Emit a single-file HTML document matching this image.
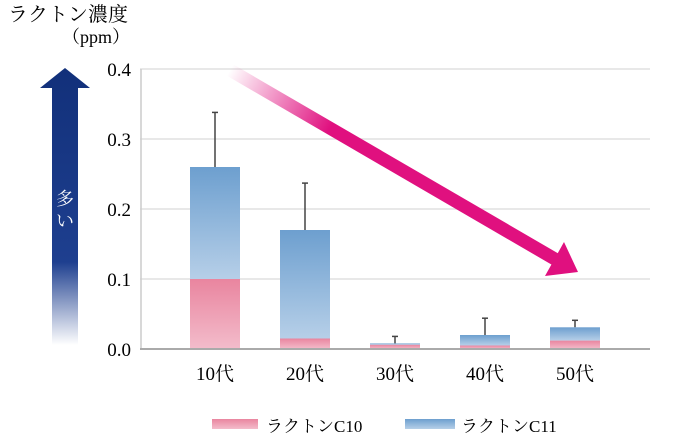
<!DOCTYPE html>
<html><head><meta charset="utf-8"><style>
body{margin:0;background:#fff;}
svg{display:block;font-family:"Liberation Serif","Noto Serif CJK SC","Noto Serif CJK JP",serif;}
</style></head><body>
<svg width="690" height="436">
<defs>
<linearGradient id="gb" x1="0" y1="0" x2="0" y2="1"><stop offset="0" stop-color="#6d9fcf"/><stop offset="1" stop-color="#b6cfe8"/></linearGradient>
<linearGradient id="gp" x1="0" y1="0" x2="0" y2="1"><stop offset="0" stop-color="#e9859f"/><stop offset="1" stop-color="#f3bccb"/></linearGradient>
<linearGradient id="ga" x1="0" y1="0" x2="0" y2="1"><stop offset="0" stop-color="#12307a"/><stop offset="0.7" stop-color="#1e3f8f"/><stop offset="1" stop-color="#fff"/></linearGradient>
<linearGradient id="gm" gradientUnits="userSpaceOnUse" x1="230" y1="70" x2="330" y2="128"><stop offset="0" stop-color="#e0107f" stop-opacity="0"/><stop offset="1" stop-color="#e0107f"/></linearGradient>
</defs>
<text x="8" y="21" font-size="20">ラクトン濃度</text>
<text x="62" y="43" font-size="18">（ppm）</text>
<polygon points="40,88 65,68 90,88 78,88 78,345 52,345 52,88" fill="url(#ga)"/>
<text x="65" y="205" font-size="18" fill="#fff" text-anchor="middle">多</text>
<text x="65" y="227" font-size="18" fill="#fff" text-anchor="middle">い</text>
<g id="grid"></g><g id="bars"></g>
<line x1="140" y1="349" x2="650" y2="349" stroke="#aaa" stroke-width="2"/>
<line x1="230" y1="70" x2="560" y2="262" stroke="url(#gm)" stroke-width="13"/>
<polygon points="578,272 545,276 564,242" fill="#e0107f"/>
<rect x="212" y="419" width="46" height="10" fill="url(#gp)"/>
<text x="266" y="432" font-size="17">ラクトンC10</text>
<rect x="405" y="419" width="50" height="10" fill="url(#gb)"/>
<text x="461" y="432" font-size="17">ラクトンC11</text>
</svg>
<script>
const categories=["10代","20代","30代","40代","50代"];
const c10=[0.1,0.015,0.006,0.005,0.012];
const total=[0.26,0.17,0.008,0.02,0.031];
const errTop=[0.338,0.237,0.018,0.044,0.041];
const ticks=[0,0.1,0.2,0.3,0.4];
const NS="http://www.w3.org/2000/svg";
const y=v=>349-v*700, x=i=>215+i*90;
function mk(t,a,p){const e=document.createElementNS(NS,t);for(const k in a)e.setAttribute(k,a[k]);p.appendChild(e);return e;}
const g=document.getElementById('grid'),b=document.getElementById('bars');
ticks.forEach((t,i)=>{
 if(t>0){const l=mk('line',{x1:140,x2:650,y1:y(t),y2:y(t),stroke:'#e0e0e0','stroke-width':1.5},g);
 
 }
 const tx=mk('text',{x:131,y:y(t)+7,'font-size':19,'text-anchor':'end'},g);tx.textContent=t.toFixed(1);
 
 
});
mk('line',{x1:141,x2:141,y1:69,y2:349,stroke:'#ccc','stroke-width':1.5},g);
categories.forEach((c,i)=>{
 const e=mk('line',{x1:x(i),x2:x(i),y1:y(errTop[i]),y2:y(total[i]),stroke:'#444','stroke-width':1.5},b);
 
 
 mk('line',{x1:x(i)-3,x2:x(i)+3,y1:y(errTop[i]),y2:y(errTop[i]),stroke:'#444','stroke-width':1.5},b);
 const r2=mk('rect',{x:x(i)-25,width:50,y:y(total[i]),height:y(c10[i])-y(total[i]),fill:'url(#gb)'},b);
 
 
 const r1=mk('rect',{x:x(i)-25,width:50,y:y(c10[i]),height:349-y(c10[i]),fill:'url(#gp)'},b);
 
 
 const t=mk('text',{x:x(i),y:380,'font-size':19,'text-anchor':'middle'},b);t.textContent=c;
 
 
});
</script>
</body></html>
